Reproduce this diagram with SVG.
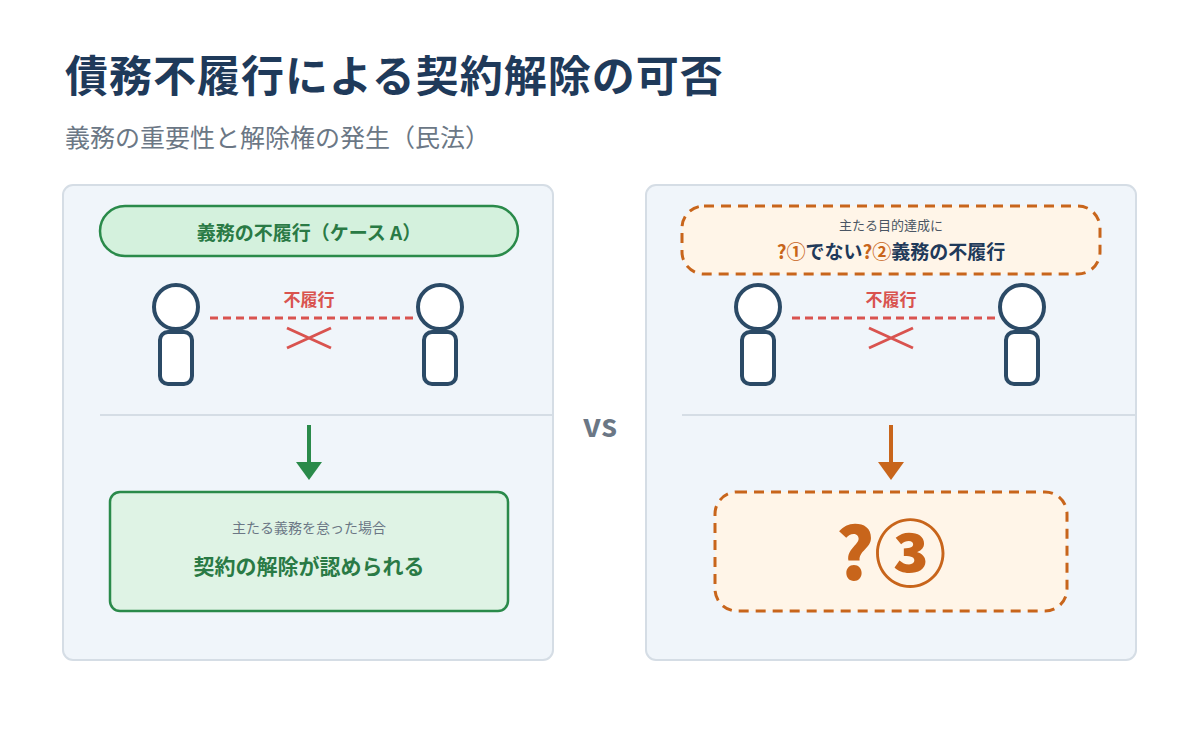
<svg xmlns="http://www.w3.org/2000/svg" width="1200" height="750" viewBox="0 0 1200 750">
<style>
text{font-family:"Noto Sans CJK JP","Noto Sans",sans-serif}
.panel{fill:#f0f5fa;stroke:#d5dde5;stroke-width:2}
.head{fill:#fff;stroke:#2b4a66;stroke-width:4}
.red{stroke:#d9534f;stroke-width:3;fill:none}
.div{stroke:#d5dde5;stroke-width:2}
.or{stroke:#c8651b;stroke-width:3;stroke-dasharray:10 7;fill:#fff5e8}
</style>
<rect width="1200" height="750" fill="#fff"/>
<text x="65" y="92" font-size="43" font-weight="700" fill="#1f3a5a" letter-spacing="1">債務不履行による契約解除の可否</text>
<text x="65" y="147" font-size="25" fill="#6b7785">義務の重要性と解除権の発生（民法）</text>
<rect class="panel" x="63" y="185" width="490" height="475" rx="10"/>
<rect class="panel" x="646" y="185" width="490" height="475" rx="10"/>
<line class="div" x1="100" y1="415" x2="553" y2="415"/>
<line class="div" x1="682" y1="415" x2="1136" y2="415"/>
<text x="600" y="437" font-size="32" font-weight="700" fill="#6b7785" text-anchor="middle" font-family="Liberation Sans,sans-serif">vs</text>
<g id="caseA">
<rect x="100" y="206" width="418" height="50" rx="25" fill="#d4f1dd" stroke="#2a8a4a" stroke-width="2.5"/>
<text x="309" y="240" font-size="19" font-weight="700" fill="#2a7a45" text-anchor="middle">義務の不履行（ケース A）</text>
</g>
<g id="personL1"><circle class="head" cx="176" cy="307" r="22"/><rect class="head" x="160" y="332" width="32" height="52" rx="8"/></g>
<g id="personL2"><circle class="head" cx="440" cy="307" r="22"/><rect class="head" x="424" y="332" width="32" height="52" rx="8"/></g>
<g id="personR1"><circle class="head" cx="758" cy="307" r="22"/><rect class="head" x="742" y="332" width="32" height="52" rx="8"/></g>
<g id="personR2"><circle class="head" cx="1022" cy="307" r="22"/><rect class="head" x="1006" y="332" width="32" height="52" rx="8"/></g>
<g id="connectors">
<line class="red" x1="210" y1="318" x2="418" y2="318" stroke-dasharray="8 5"/>
<text x="309" y="306" font-size="17" font-weight="700" fill="#d9534f" text-anchor="middle">不履行</text>
<path class="red" d="M287 328 L331 348 M287 348 L331 328" stroke-width="4"/>
<line class="red" x1="792" y1="318" x2="1000" y2="318" stroke-dasharray="8 5"/>
<text x="891" y="306" font-size="17" font-weight="700" fill="#d9534f" text-anchor="middle">不履行</text>
<path class="red" d="M869 328 L913 348 M869 348 L913 328" stroke-width="4"/>
<line x1="309" y1="425" x2="309" y2="465" stroke="#2a8a4a" stroke-width="4"/>
<path d="M296 462 L322 462 L309 480 Z" fill="#2a8a4a"/>
<line x1="891" y1="425" x2="891" y2="465" stroke="#c8651b" stroke-width="4"/>
<path d="M878 462 L904 462 L891 480 Z" fill="#c8651b"/>
</g>
<g id="resultA">
<rect x="110" y="492" width="398" height="119" rx="10" fill="#dff3e5" stroke="#2a8a4a" stroke-width="2.5"/>
<text x="309" y="533" font-size="14" fill="#6b7785" text-anchor="middle">主たる義務を怠った場合</text>
<text x="309" y="574" font-size="21" font-weight="700" fill="#2a7a45" text-anchor="middle">契約の解除が認められる</text>
</g>
<g id="caseB">
<rect class="or" x="682" y="206" width="418" height="68" rx="22"/>
<text x="891" y="230" font-size="13" fill="#4a5563" text-anchor="middle">主たる目的達成に</text>
<text x="891" y="259" font-size="19" font-weight="700" fill="#1f3a5a" text-anchor="middle"><tspan fill="#c8651b">?①</tspan>でない<tspan fill="#c8651b">?②</tspan>義務の不履行</text>
</g>
<g id="resultB">
<rect class="or" x="715" y="492" width="352" height="119" rx="22"/>
<text x="891" y="580" font-size="72" font-weight="900" fill="#c8651b" text-anchor="middle">?③</text>
</g>
</svg>
